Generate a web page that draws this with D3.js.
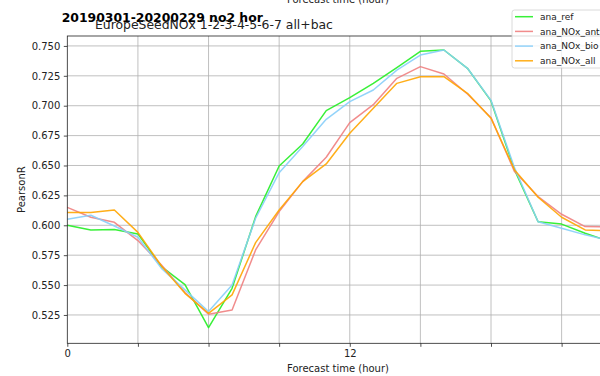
<!DOCTYPE html>
<html>
<head>
<meta charset="utf-8">
<script src="https://cdn.jsdelivr.net/npm/d3@7"></script>
<style>
  html, body { margin: 0; padding: 0; background: #fff; overflow: hidden; }
  svg { display: block; font-family: "DejaVu Sans", sans-serif; }
</style>
</head>
<body>
<svg id="chart" width="600" height="376"></svg>
<script>
// Forecast hours and PearsonR per hour for each run
const hours = d3.range(0, 24);
const anaRef = [0.600, 0.596, 0.5964, 0.5928, 0.5654, 0.5504, 0.5144, 0.5473, 0.6072, 0.6496, 0.668, 0.6959,
                0.7067, 0.7187, 0.7318, 0.7455, 0.7466, 0.7313, 0.704, 0.6463, 0.603, 0.601, 0.5933, 0.5868];
const anaNOxAnth = [0.615, 0.6067, 0.6025, 0.5872, 0.5668, 0.5437, 0.5256, 0.5292, 0.5794, 0.6114, 0.6365, 0.6569,
                    0.6858, 0.7009, 0.7229, 0.7327, 0.7265, 0.7098, 0.690, 0.6449, 0.624, 0.6092, 0.5989, 0.5988];
const anaNOxBio = [0.605, 0.6084, 0.5994, 0.590, 0.564, 0.546, 0.5278, 0.5501, 0.6059, 0.644, 0.6658, 0.6886,
                   0.7034, 0.7131, 0.7298, 0.7424, 0.7466, 0.7313, 0.7045, 0.648, 0.603, 0.5975, 0.592, 0.5875];
const anaNOxAll = [0.6106, 0.6106, 0.6128, 0.5941, 0.566, 0.5431, 0.5264, 0.5418, 0.5855, 0.6128, 0.6365, 0.6513,
                   0.6769, 0.6978, 0.7187, 0.7243, 0.7243, 0.7104, 0.6895, 0.6463, 0.6234, 0.6067, 0.5961, 0.5955];

const seriesNames = ["ana_ref", "ana_NOx_anth", "ana_NOx_bio", "ana_NOx_all"];
const seriesValues = [anaRef, anaNOxAnth, anaNOxBio, anaNOxAll];
const seriesColors = ["#22ee22", "#f08080", "#87cefa", "#ffa500"];

const xMajorTicks = [0, 12];
const xGridTicks = [3, 6, 9, 12, 15, 18, 21];
const yTicks = [0.525, 0.550, 0.575, 0.600, 0.625, 0.650, 0.675, 0.700, 0.725, 0.750];

const titleMain = "20190301-20200229 no2 hor";
const titleSub = "EuropeSeedNOx 1-2-3-4-5-6-7 all+bac";
const xLabel = "Forecast time (hour)";
const yLabel = "PearsonR";

const svg = d3.select("#chart");
const plot = { left: 67.3, right: 608.7, top: 36, bottom: 343.3 };

const x = d3.scaleLinear().domain([0, 23]).range([plot.left, plot.right]);
const y = d3.scaleLinear().domain([0.5013, 0.7583]).range([plot.bottom, plot.top]);

// grid
const grid = svg.append("g").attr("stroke", "#b0b0b0").attr("stroke-width", 0.8);
grid.selectAll("line.gx").data(xGridTicks).join("line")
  .attr("x1", d => x(d)).attr("x2", d => x(d))
  .attr("y1", plot.top).attr("y2", plot.bottom);
grid.selectAll("line.gy").data(yTicks).join("line")
  .attr("x1", plot.left).attr("x2", plot.right)
  .attr("y1", d => y(d)).attr("y2", d => y(d));

// lines
const line = d3.line().x((d, i) => x(hours[i])).y(d => y(d));
svg.append("g").selectAll("path").data(seriesValues).join("path")
  .attr("d", d => line(d))
  .attr("fill", "none")
  .attr("stroke", (d, i) => seriesColors[i])
  .attr("stroke-width", 1.5)
  .attr("stroke-opacity", 0.9)
  .attr("stroke-linejoin", "round");

// axes
const xAxis = d3.axisBottom(x)
  .tickValues([0, 3, 6, 9, 12, 15, 18, 21])
  .tickSize(3.5).tickPadding(3.5)
  .tickFormat(d => xMajorTicks.includes(d) ? d3.format("d")(d) : "");
const gx = svg.append("g").attr("transform", `translate(0,${plot.bottom})`).call(xAxis);

const yAxis = d3.axisLeft(y)
  .tickValues(yTicks)
  .tickSize(3.5).tickPadding(3.5)
  .tickFormat(d3.format(".3f"));
const gy = svg.append("g").attr("transform", `translate(${plot.left},0)`).call(yAxis);

[gx, gy].forEach(g => {
  g.select(".domain").remove();
  g.selectAll(".tick line").attr("stroke", "#222").attr("stroke-width", 0.8);
  g.selectAll(".tick text").attr("fill", "#222").attr("font-size", 10)
    .attr("font-family", "DejaVu Sans, sans-serif");
});

// frame
svg.append("rect")
  .attr("x", plot.left).attr("y", plot.top)
  .attr("width", plot.right - plot.left).attr("height", plot.bottom - plot.top)
  .attr("fill", "none").attr("stroke", "#222").attr("stroke-width", 0.8);

// axis labels
const cx = (plot.left + plot.right) / 2;
svg.append("text").attr("x", cx).attr("y", 372).attr("text-anchor", "middle")
  .attr("font-size", 10).attr("fill", "#222").text(xLabel);
svg.append("text").attr("x", cx).attr("y", 3).attr("text-anchor", "middle")
  .attr("font-size", 10).attr("fill", "#222").text(xLabel);
svg.append("text")
  .attr("transform", `translate(25,${(plot.top + plot.bottom) / 2}) rotate(-90)`)
  .attr("text-anchor", "middle").attr("font-size", 10).attr("fill", "#222").text(yLabel);

// titles
svg.append("text").attr("x", 61.7).attr("y", 21.5)
  .attr("font-size", 12.4).attr("font-weight", "bold").attr("fill", "#000").text(titleMain);
svg.append("text").attr("x", 95).attr("y", 29)
  .attr("font-size", 12.4).attr("fill", "#222").text(titleSub);

// legend
const legend = svg.append("g");
legend.append("rect")
  .attr("x", 512).attr("y", 10).attr("width", 105).attr("height", 58).attr("rx", 2.5)
  .attr("fill", "#fff").attr("fill-opacity", 0.8)
  .attr("stroke", "#d0d0d0").attr("stroke-width", 0.8);
const rows = legend.selectAll("g.row").data(seriesNames).join("g")
  .attr("transform", (d, i) => `translate(0,${16.7 + i * 14.7})`);
rows.append("line")
  .attr("x1", 515).attr("x2", 533).attr("y1", 0).attr("y2", 0)
  .attr("stroke", (d, i) => seriesColors[i]).attr("stroke-width", 1.5)
  .attr("stroke-opacity", 0.9);
rows.append("text")
  .attr("x", 540).attr("y", 0).attr("dy", "0.35em")
  .attr("font-size", 9).attr("fill", "#222").text(d => d);
</script>
</body>
</html>
